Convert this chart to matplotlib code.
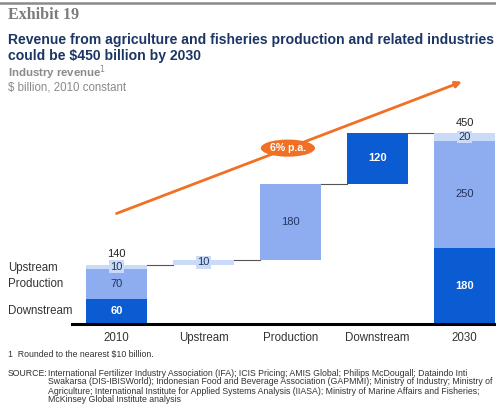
import matplotlib
matplotlib.use('Agg')
import matplotlib.pyplot as plt
import matplotlib.transforms as mtransforms
import numpy as np

# --- data ---------------------------------------------------------------
CATEGORIAS = ['2010', 'Upstream', 'Production', 'Downstream', '2030']
SEGMENTOS = ['Downstream', 'Production', 'Upstream']
VALORES_2010 = [60, 70, 10]
VALORES_2030 = [180, 250, 20]
INCREMENTOS = [10, 180, 120]          # Upstream, Production, Downstream
TAXA = '6% p.a.'

# --- style --------------------------------------------------------------
_COR = {
    'Downstream': '#0B5BD3',
    'Production': '#8EADF0',
    'Upstream':   '#C9DBF6',
}
_COR_TXT = {
    'Downstream': 'white',
    'Production': '#24355E',
    'Upstream':   '#24355E',
}
LARANJA = '#F07125'
W, H = 496, 412
PX_POR_UNIDADE = 0.425
LARG = 0.70
FS = 8.3

plt.rcParams['font.family'] = ['Liberation Sans', 'DejaVu Sans']


def px(x, y):
    return x / W, 1 - y / H


fig = plt.figure(figsize=(W / 100, H / 100), dpi=100)

# header
fig.add_artist(plt.Line2D([0, 1], [1 - 2.5 / H, 1 - 2.5 / H], color='#8a8a8a', lw=1.8))
fig.text(*px(8, 15), 'Exhibit 19', family='Liberation Serif', weight='bold',
         color='#7b7b7b', fontsize=11.5, va='center')
fig.text(*px(8, 40), 'Revenue from agriculture and fisheries production and related industries',
         weight='bold', color='#1B3564', fontsize=10.05, va='center')
fig.text(*px(8, 56), 'could be $450 billion by 2030',
         weight='bold', color='#1B3564', fontsize=10.05, va='center')
fig.text(*px(8, 73), 'Industry revenue$^1$', weight='bold', color='#8a8a8a',
         fontsize=8.2, va='center')
fig.text(*px(8, 88), '$ billion, 2010 constant', color='#8a8a8a',
         fontsize=8.3, va='center')

# axes: bottom at pixel 324, left at pixel 72
base_px, topo_px = 324, 40
x0 = (72 - 116.5) / 87
x1 = (W - 116.5) / 87
ax = fig.add_axes([72 / W, (H - base_px) / H, (W - 72) / W, (base_px - topo_px) / H])
ax.set_xlim(x0, x1)
ax.set_ylim(0, (base_px - topo_px) / PX_POR_UNIDADE)
for s in ['top', 'right', 'left']:
    ax.spines[s].set_visible(False)
ax.spines['bottom'].set_linewidth(2.2)
ax.set_yticks([])
ax.set_xticks(np.arange(len(CATEGORIAS)))
ax.set_xticklabels(CATEGORIAS, fontsize=FS, color='#333333')
ax.tick_params(axis='x', length=0, pad=6)

x = np.arange(len(CATEGORIAS))


def rotulo(xi, y, v, seg):
    kw = dict(ha='center', va='center', fontsize=8, color=_COR_TXT[seg], zorder=4,
              weight='bold' if seg == 'Downstream' else 'normal')
    if seg == 'Upstream':
        kw['bbox'] = dict(boxstyle='square,pad=0.12', fc=_COR[seg], ec='none')
    ax.text(xi, y, str(v), **kw)


def pilha(xi, valores):
    base = 0
    for seg, v in zip(SEGMENTOS, valores):
        ax.bar(xi, v, LARG, bottom=base, color=_COR[seg], clip_on=False, zorder=2)
        rotulo(xi, base + v / 2, v, seg)
        base += v
    ax.text(xi, base + 24, str(base), ha='center', va='center', fontsize=8,
            color='#222222')
    return base


total_2010 = pilha(x[0], VALORES_2010)

# waterfall steps
nivel = total_2010
for i, (seg, v) in enumerate(zip(['Upstream', 'Production', 'Downstream'], INCREMENTOS)):
    xi = x[i + 1]
    ax.plot([xi - 1 + LARG / 2, xi - LARG / 2], [nivel, nivel], color='#555555', lw=0.8, zorder=1)
    ax.bar(xi, v, LARG, bottom=nivel, color=_COR[seg], zorder=2)
    rotulo(xi, nivel + v / 2, v, seg)
    nivel += v

ax.plot([x[3] + LARG / 2, x[4] - LARG / 2], [nivel, nivel], color='#555555', lw=0.8, zorder=1)
total_2030 = pilha(x[4], VALORES_2030)

# legend-like labels at left
trans = mtransforms.blended_transform_factory(fig.transFigure, ax.transData)
base = 0
for seg, v in zip(SEGMENTOS, VALORES_2010):
    fig.text(8 / W, base + v / 2 - (3 if seg == 'Upstream' else 0), seg, transform=trans,
             ha='left', va='center', fontsize=FS, color='#333333')
    base += v

# growth arrow
ya = total_2010 + 120
yb = total_2030 + 120
xa, xb = x[0], x[4] - 0.03
ax.annotate('', xy=(xb, yb), xytext=(xa, ya),
            arrowprops=dict(arrowstyle='-|>', color=LARANJA, lw=2.0, mutation_scale=9,
                            shrinkA=0, shrinkB=0), zorder=3, annotation_clip=False)
xm = 1.97
ym = ya + (yb - ya) * (xm - xa) / (xb - xa)
ax.text(xm, ym, TAXA, ha='center', va='center', fontsize=7.6, weight='bold', color='white',
        bbox=dict(boxstyle='ellipse,pad=0.1', fc=LARANJA, ec='none'),
        zorder=5)

# footnotes
FN = 6.3
fig.text(*px(8, 355), '1  Rounded to the nearest $10 billion.', fontsize=FN, color='#333333',
         va='center')
fig.text(*px(8, 373), 'SOURCE:', fontsize=FN, color='#333333', va='center')
linhas = [
    'International Fertilizer Industry Association (IFA); ICIS Pricing; AMIS Global; Philips McDougall; Dataindo Inti',
    'Swakarsa (DIS-IBISWorld); Indonesian Food and Beverage Association (GAPMMI); Ministry of Industry; Ministry of',
    'Agriculture; International Institute for Applied Systems Analysis (IIASA); Ministry of Marine Affairs and Fisheries;',
    'McKinsey Global Institute analysis',
]
for k, l in enumerate(linhas):
    fig.text(*px(48, 373 + k * 9), l, fontsize=FN, color='#333333', va='center')

fig.savefig('out.png', dpi=100)
